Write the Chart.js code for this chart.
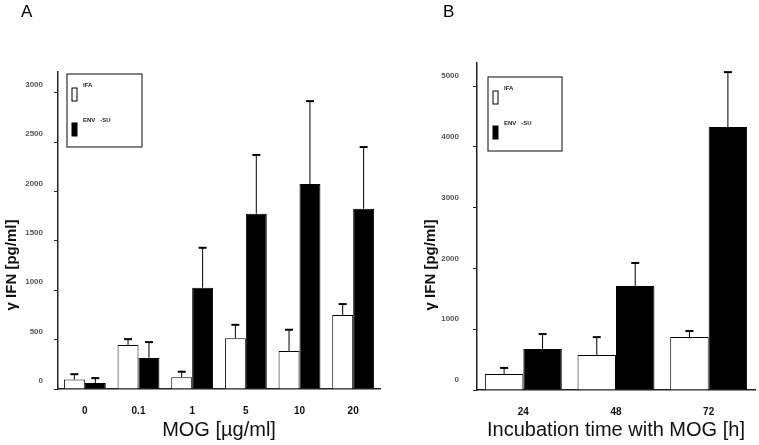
<!DOCTYPE html>
<html>
<head>
<meta charset="utf-8">
<script src="https://cdn.jsdelivr.net/npm/chart.js@4/dist/chart.umd.min.js"></script>
<style>
    body { margin: 0; background: #fff; }
    #wrap { position: relative; width: 759px; height: 445px; }
    canvas { position: absolute; top: 0; }
</style>
</head>
<body>
<div id="wrap">
    <canvas id="chartA" width="385" height="445" style="left:0px"></canvas>
    <canvas id="chartB" width="359" height="445" style="left:400px"></canvas>
</div>
<script>
//Panel A: IFN-gamma against MOG dose
const mogDoses = ["0", "0.1", "1", "5", "10", "20"];
const ifaDose = [95, 445, 120, 515, 385, 750];
const ifaDoseSd = [55, 60, 55, 135, 215, 110];
const envDose = [60, 315, 1025, 1775, 2075, 1825];
const envDoseSd = [50, 160, 405, 595, 840, 625];
const doseTicks = [0, 500, 1000, 1500, 2000, 2500, 3000];

//Panel B: IFN-gamma against incubation time
const hours = ["24", "48", "72"];
const ifaTime = [263, 575, 870];
const ifaTimeSd = [100, 295, 100];
const envTime = [675, 1710, 4325];
const envTimeSd = [245, 380, 905];
const timeTicks = [0, 1000, 2000, 3000, 4000, 5000];

const seriesNames = ["IFA", "ENV   -SU"];
const FONT = "'Liberation Sans', Arial, sans-serif";
Chart.defaults.font.family = FONT;
Chart.defaults.color = "#000";

//upper error bars with a short cap
const errorBars = {
    id : "errorBars",
    afterDatasetsDraw(chart) {
        const ctx = chart.ctx;
        const y = chart.scales.y;
        chart.data.datasets.forEach((ds, i) => {
            chart.getDatasetMeta(i).data.forEach((bar, j) => {
                const top = y.getPixelForValue(ds.data[j] + ds.sd[j]);
                ctx.save();
                ctx.strokeStyle = "#000";
                ctx.lineWidth = 1;
                ctx.beginPath();
                ctx.moveTo(bar.x, bar.y);
                ctx.lineTo(bar.x, top);
                ctx.stroke();
                ctx.lineWidth = 2;
                ctx.beginPath();
                ctx.moveTo(bar.x - 4, top);
                ctx.lineTo(bar.x + 4, top);
                ctx.stroke();
                ctx.restore();
            });
        });
    }
};

//panel letter, rotated y title and the boxed legend
const panelDecor = {
    id : "panelDecor",
    afterDraw(chart, args, opts) {
        const ctx = chart.ctx;
        ctx.save();
        ctx.fillStyle = "#000";
        ctx.textBaseline = "middle";
        ctx.font = `17px ${FONT}`;
        ctx.fillText(opts.letter, opts.letterX, 12);

        ctx.save();
        ctx.translate(opts.titleX, 265);
        ctx.rotate(-Math.PI / 2);
        ctx.textAlign = "center";
        ctx.textBaseline = "alphabetic";
        ctx.font = `bold 15px ${FONT}`;
        ctx.fillStyle = "#111";
        ctx.fillText("γ IFN [pg/ml]", 0, 0);
        ctx.restore();

        const b = opts.box;
        ctx.strokeStyle = "#333";
        ctx.lineWidth = 1.2;
        ctx.strokeRect(b.x, b.y, b.w, b.h);
        chart.data.datasets.forEach((ds, i) => {
            const sy = b.y + 14 + i * 35;
            ctx.fillStyle = ds.backgroundColor;
            ctx.fillRect(b.x + 5, sy, 5, 13);
            ctx.strokeStyle = "#000";
            ctx.lineWidth = 1;
            ctx.strokeRect(b.x + 5, sy, 5, 13);
            ctx.fillStyle = "#222";
            ctx.font = `bold 6px ${FONT}`;
            ctx.textBaseline = "middle";
            ctx.fillText(ds.label, b.x + 16, sy - 3);
        });
        ctx.restore();
    }
};

function makeDatasets(white, whiteSd, black, blackSd) {
    return [
        {
            label : seriesNames[0],
            data : white,
            sd : whiteSd,
            backgroundColor : "#ffffff",
            borderColor : "#000",
            borderWidth : 1
        },
        {
            label : seriesNames[1],
            data : black,
            sd : blackSd,
            backgroundColor : "#000000",
            borderColor : "#000",
            borderWidth : 1
        }
    ];
}

function panelOptions(cfg) {
    return {
        responsive : false,
        animation : false,
        categoryPercentage : cfg.catPct,
        barPercentage : 1,
        layout : { padding : { top : cfg.top, right : cfg.right, left : 0, bottom : 0 } },
        plugins : {
            legend : { display : false },
            tooltip : { enabled : false },
            panelDecor : cfg.decor
        },
        scales : {
            x : {
                grid : { display : false },
                border : { color : "#222", width : 1.5 },
                ticks : { font : { size : 10, weight : "bold" }, color : "#111", padding : 8 },
                title : {
                    display : true,
                    text : cfg.xTitle,
                    font : { size : 20 },
                    color : "#111",
                    padding : { top : 0, bottom : 3 }
                },
                afterFit : (s) => { s.height = cfg.xHeight; }
            },
            y : {
                min : 0,
                max : cfg.max,
                grid : { drawOnChartArea : false, tickLength : 4, color : "#222" },
                border : { color : "#222", width : 1.5 },
                ticks : {
                    font : { size : 8, weight : "bold" },
                    color : "#555",
                    padding : cfg.tickPad,
                    labelOffset : cfg.labelOffset,
                    callback : (v) => String(v)
                },
                afterBuildTicks : (s) => { s.ticks = cfg.yTicks.map(v => ({ value : v })); },
                afterFit : (s) => { s.width = cfg.yWidth; }
            }
        }
    };
}

new Chart("chartA", {
    type : "bar",
    data : { labels : mogDoses, datasets : makeDatasets(ifaDose, ifaDoseSd, envDose, envDoseSd) },
    options : panelOptions({
        catPct : 0.78, top : 72, right : 5, max : 3210, xHeight : 56, yWidth : 58,
        tickPad : 11, labelOffset : -8, yTicks : doseTicks, xTitle : "MOG [µg/ml]",
        decor : { letter : "A", letterX : 21, titleX : 16, box : { x : 67, y : 74, w : 75, h : 73 } }
    }),
    plugins : [errorBars, panelDecor]
});

new Chart("chartB", {
    type : "bar",
    data : { labels : hours, datasets : makeDatasets(ifaTime, ifaTimeSd, envTime, envTimeSd) },
    options : panelOptions({
        catPct : 0.83, top : 63, right : 4, max : 5380, xHeight : 55, yWidth : 77,
        tickPad : 14, labelOffset : -10, yTicks : timeTicks, xTitle : "Incubation time with MOG [h]",
        decor : { letter : "B", letterX : 43, titleX : 35, box : { x : 88, y : 77, w : 74, h : 74 } }
    }),
    plugins : [errorBars, panelDecor]
});
</script>
</body>
</html>
